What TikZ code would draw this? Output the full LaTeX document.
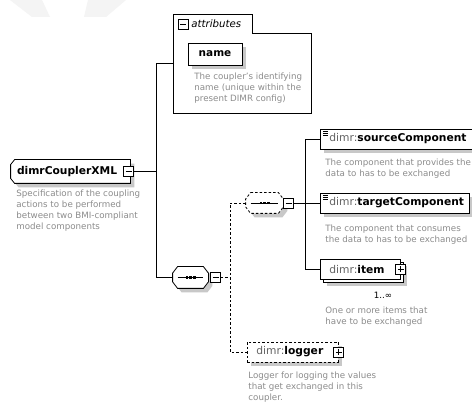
\documentclass[tikz,border=0pt]{standalone}
\usepackage{fontspec}
\setmainfont{DejaVu Sans}
\usetikzlibrary{shadows,positioning}
\definecolor{desctext}{RGB}{140,140,140}
\definecolor{nsgray}{RGB}{100,100,100}
\definecolor{shadowgray}{RGB}{200,200,200}
\definecolor{watermark}{RGB}{244,244,244}
\newcommand{\dimrns}{{\mdseries\color{nsgray}dimr:}}
% octagon of a sequence compositor, drawn round an empty node
\newcommand{\seqoctagon}[2][]{%
  \fill[shadowgray,transform canvas={shift={(4pt,-4pt)}}] ([xshift=5pt]#2.north west) -- ([xshift=-5pt]#2.north east)
    -- ([yshift=-6.5pt]#2.north east) -- ([yshift=6.5pt]#2.south east) -- ([xshift=-5pt]#2.south east)
    -- ([xshift=5pt]#2.south west) -- ([yshift=6.5pt]#2.south west) -- ([yshift=-6.5pt]#2.north west) -- cycle;
  \draw[fill=white,#1] ([xshift=5pt]#2.north west) -- ([xshift=-5pt]#2.north east)
    -- ([yshift=-6.5pt]#2.north east) -- ([yshift=6.5pt]#2.south east) -- ([xshift=-5pt]#2.south east)
    -- ([xshift=5pt]#2.south west) -- ([yshift=6.5pt]#2.south west) -- ([yshift=-6.5pt]#2.north west) -- cycle;
  \draw[line width=0.6pt] ([xshift=5pt]#2.west) -- ([xshift=-5pt]#2.east);
  \foreach \dx in {-5,-1.3,2.4}
    \fill ([xshift=\dx pt,yshift=-1.3pt]#2.center) rectangle ++(2.6pt,2.6pt);
}

\begin{document}
\begin{tikzpicture}[x=1pt,y=-1pt,line width=0.8pt,
  boxshadow/.style={general shadow={fill=shadowgray,shadow xshift=4pt,shadow yshift=-4pt}},
  multishadow/.style={general shadow={fill=shadowgray,shadow xshift=7pt,shadow yshift=-7pt},
    general shadow={draw,fill=white,shadow xshift=3pt,shadow yshift=-3pt}},
  optdash/.style={dash pattern=on 2.5pt off 2pt},
  elem/.style={rectangle,draw,fill=white,minimum height=20pt,inner xsep=9pt,inner ysep=0pt,
    anchor=west,align=left,font=\fontsize{10.7}{12}\selectfont\bfseries},
  iconlines/.style={path picture={\foreach \dy in {2.5,4.5,6.5}
    \draw[line width=0.6pt] ([shift={(2.5pt,-\dy pt)}]path picture bounding box.north west) -- ++(5pt,0pt);}},
  rootframe/.style={rectangle,minimum width=119pt,minimum height=23pt,inner sep=0pt},
  rootlabel/.style={anchor=west,inner sep=0pt,font=\fontsize{10.7}{12}\selectfont\bfseries},
  seqnode/.style={rectangle,minimum width=35pt,minimum height=21pt,inner sep=0pt},
  togglebox/.style={rectangle,draw,solid,fill=white,minimum size=10pt,inner sep=0pt},
  minusbox/.style={togglebox,path picture={\draw ([xshift=2pt]path picture bounding box.west) -- ([xshift=-2pt]path picture bounding box.east);}},
  plusbox/.style={togglebox,path picture={\draw ([xshift=2pt]path picture bounding box.west) -- ([xshift=-2pt]path picture bounding box.east);
    \draw ([yshift=-2pt]path picture bounding box.north) -- ([yshift=2pt]path picture bounding box.south);}},
  namebox/.style={rectangle,draw,fill=white,minimum width=54pt,minimum height=22pt,inner sep=0pt,
    boxshadow,font=\fontsize{10.5}{12}\selectfont\bfseries},
  desc/.style={anchor=north west,align=left,inner sep=0pt,text=desctext,font=\fontsize{8.7}{11}\selectfont}]

\useasboundingbox (0,0) rectangle (472,403);
\clip (0,0) rectangle (472,403);
\fill[white] (0,0) rectangle (472,403);

% faint watermark
\fill[watermark] (10,0) -- (42,0) -- (50,17) -- (32,17) -- cycle;
\fill[watermark] (88,0) -- (126,0) -- (106,17) -- (84,17) -- cycle;

% root element
\node[rootframe] (root) at (70.5,171.5) {};
\fill[shadowgray,transform canvas={shift={(4pt,-4pt)}}] ([xshift=4pt]root.north west) -- (root.north east)
  -- (root.south east) -- ([xshift=4pt]root.south west) -- ([yshift=5pt]root.south west) -- ([yshift=-5pt]root.north west) -- cycle;
\draw[fill=white] ([xshift=4pt]root.north west) -- (root.north east)
  -- (root.south east) -- ([xshift=4pt]root.south west) -- ([yshift=5pt]root.south west) -- ([yshift=-5pt]root.north west) -- cycle;
\node[rootlabel] (rootlabel) at ([xshift=6pt]root.west) {dimrCouplerXML};
\node[minusbox] (rootminus) at (128.5,171.5) {};
\node[desc,font=\fontsize{8.7}{11.3}\selectfont] (rootdesc) at (16,189) {Specification of the coupling\\actions to be performed\\between two BMI-compliant\\model components};

% attributes
\draw (173,14) -- (252,14) -- (252,33) -- (311,33) -- (311,113) -- (173,113) -- cycle;
\node[minusbox] (attrminus) at (183,24) {};
\node[anchor=west,inner sep=0pt,font=\fontsize{10.2}{12}\selectfont\itshape] (attrlabel) at (191,23.5) {attributes};
\node[namebox] (name) at (215,54) {name};
\node[desc] (namedesc) at (194,72) {The coupler's identifying\\name (unique within the\\present DIMR config)};

% sequences
\node[seqnode] (seq) at (190.5,277.5) {};
\seqoctagon{seq}
\node[minusbox] (seqminus) at (215.5,277.5) {};
\node[seqnode,minimum width=37pt,minimum height=20pt] (optseq) at (264.5,203) {};
\seqoctagon[optdash]{optseq}
\node[minusbox] (optseqminus) at (288.5,203) {};

% child elements
\node[elem,iconlines,boxshadow,text width=138pt] (source) at (320,139) {\dimrns sourceComponent};
\node[desc] (sourcedesc) at (325,158) {The component that provides the\\data to has to be exchanged};
\node[elem,iconlines,boxshadow,text width=131pt] (target) at (320,203) {\dimrns targetComponent};
\node[desc] (targetdesc) at (325,224) {The component that consumes\\the data to has to be exchanged};
\node[elem,multishadow,text width=62pt] (item) at (320,269.5) {\dimrns item};
\node[plusbox] (itemplus) at (item.east) {};
\node[inner sep=0pt,font=\fontsize{8.7}{10}\selectfont] (itemcount) at (383,295) {1..∞};
\node[desc] (itemdesc) at (325,306) {One or more items that\\have to be exchanged};
\node[elem,optdash,boxshadow,text width=73pt] (logger) at (247,352) {\dimrns logger};
\node[plusbox] (loggerplus) at (logger.east) {};
\node[desc] (loggerdesc) at (248,371) {Logger for logging the values\\that get exchanged in this\\coupler.};

% connectors
\coordinate (trunk) at (156,171.5);
\coordinate (attrin) at (173,63);
\coordinate (ja) at (156,63);
\coordinate (jb) at (156,277.5);
\coordinate (jc) at (230,277.5);
\coordinate (jd) at (230,203);
\coordinate (je) at (230,352);
\coordinate (jf) at (305,139);
\coordinate (jg) at (305,269.5);

\draw (rootminus.east) -- (trunk);
\draw (attrin) -- (ja) -- (jb) -- (seq.west);
\draw[optdash] (seqminus.east) -- (jc);
\draw[optdash] (optseq.west) -- (jd) -- (je) -- (logger.west);
\draw (optseqminus.east) -- (target.west);
\draw (source.west) -- (jf) -- (jg) -- (item.west);

\end{tikzpicture}
\end{document}
